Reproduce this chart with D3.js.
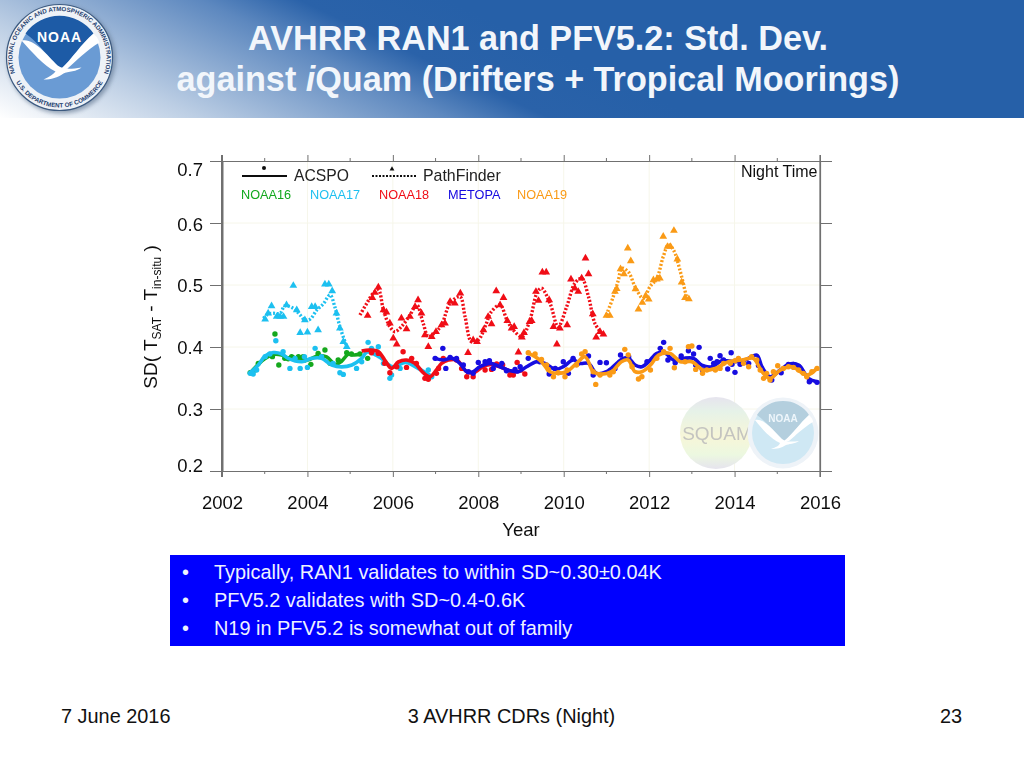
<!DOCTYPE html>
<html><head><meta charset="utf-8">
<script src="https://cdn.jsdelivr.net/npm/d3@7"></script>
<style>html,body{margin:0;padding:0;background:#fff}svg{display:block}text{font-family:"Liberation Sans",Arial,sans-serif}</style>
</head><body><div id="c"></div>
<script>
const titleLines=["AVHRR RAN1 and PFV5.2: Std. Dev."];
const bullets=["Typically, RAN1 validates to within SD~0.30±0.04K","PFV5.2 validates with SD~0.4-0.6K","N19 in PFV5.2 is somewhat out of family"];
const yearTicks=[2002,2004,2006,2008,2010,2012,2014,2016];
const minorTicks=[2003,2005,2007,2009,2011,2013,2015];
const sdTicks=[0.2,0.3,0.4,0.5,0.6,0.7];
const names=["NOAA16","NOAA17","NOAA18","METOPA","NOAA19"];
const colors={NOAA16:"#12a81e",NOAA17:"#1fc0f0",NOAA18:"#f00a14",METOPA:"#1408e0",NOAA19:"#fa9a14"};

const acspoLine={
NOAA16:[[2002.66,.358],[2002.85,.372],[2003.0,.381],[2003.2,.388],[2003.4,.387],[2003.55,.382],[2003.75,.381],[2004.0,.379],[2004.25,.386],[2004.45,.384],[2004.65,.372],[2004.8,.377],[2004.95,.388],[2005.1,.387],[2005.27,.389]],
NOAA17:[[2002.66,.3586],[2002.85,.371],[2003.01,.3855],[2003.2,.391],[2003.4,.3887],[2003.55,.3817],[2003.87,.3763],[2004.1,.3817],[2004.33,.3817],[2004.57,.371],[2004.8,.368],[2005.04,.371],[2005.27,.3817],[2005.4,.392],[2005.7,.383],[2006.0,.368],[2006.3,.375],[2006.6,.365],[2006.9,.353]],
NOAA18:[[2005.27,.3935],[2005.46,.395],[2005.66,.3925],[2005.81,.379],[2005.97,.3656],[2006.13,.376],[2006.32,.379],[2006.52,.3736],[2006.71,.3586],[2006.87,.352],[2007.02,.363],[2007.14,.3736],[2007.3,.379],[2007.5,.379],[2007.73,.36],[2007.88,.358],[2008.1,.368],[2008.3,.372],[2008.55,.367],[2008.8,.36],[2009.05,.362]],
METOPA:[[2006.99,.3817],[2007.18,.379],[2007.38,.3817],[2007.57,.3736],[2007.73,.3602],[2007.88,.3602],[2008.04,.3682],[2008.27,.3736],[2008.51,.3682],[2008.74,.3618],[2008.94,.3602],[2009.13,.3682],[2009.37,.3763],[2009.56,.3736],[2009.8,.364],[2009.99,.3682],[2010.22,.379],[2010.38,.3736],[2010.58,.3736],[2010.77,.3575],[2011.0,.3602],[2011.24,.3736],[2011.39,.3817],[2011.52,.3817],[2011.67,.3709],[2011.83,.3682],[2011.99,.3763],[2012.18,.3897],[2012.38,.3897],[2012.57,.379],[2012.8,.3817],[2013.04,.3817],[2013.23,.3709],[2013.47,.3682],[2013.7,.3779],[2014.01,.3763],[2014.25,.379],[2014.52,.387],[2014.64,.3682],[2014.83,.352],[2015.07,.3628],[2015.26,.372],[2015.5,.3709],[2015.73,.3494],[2015.93,.344]],
NOAA19:[[2009.17,.39],[2009.44,.379],[2009.68,.36],[2009.87,.3575],[2010.07,.3602],[2010.3,.3736],[2010.5,.3844],[2010.69,.3602],[2010.85,.3564],[2011.12,.3602],[2011.35,.3763],[2011.51,.379],[2011.67,.3602],[2011.83,.3602],[2012.03,.3709],[2012.22,.387],[2012.49,.3897],[2012.73,.3763],[2013.0,.3763],[2013.27,.3628],[2013.55,.3655],[2013.86,.3763],[2014.17,.379],[2014.44,.3817],[2014.64,.3602],[2014.83,.3494],[2015.07,.3628],[2015.34,.3682],[2015.69,.3548],[2015.93,.3655]]
};
const acspoDots={
NOAA16:[[2002.66,.3585],[2002.77,.3628],[2002.85,.3736],[2003.18,.3844],[2003.24,.4209],[2003.33,.3709],[2003.47,.3817],[2003.55,.381],[2003.63,.3844],[2003.67,.3825],[2003.75,.38],[2003.79,.3844],[2003.85,.381],[2003.9,.3844],[2003.94,.379],[2004.08,.372],[2004.25,.3897],[2004.41,.3951],[2004.53,.3736],[2004.72,.379],[2004.92,.3908],[2005.03,.3887],[2005.23,.3887],[2005.41,.3817]],
NOAA17:[[2002.66,.3575],[2002.73,.3564],[2002.81,.3628],[2003.01,.3844],[2003.12,.3887],[2003.26,.4102],[2003.43,.3924],[2003.59,.3655],[2003.71,.3817],[2003.83,.3655],[2003.93,.3844],[2004.0,.3671],[2004.18,.3978],[2004.33,.3844],[2004.6,.3736],[2004.76,.3585],[2004.84,.3558],[2005.15,.3655],[2005.27,.3763],[2005.42,.4075],[2005.5,.3978],[2005.66,.4005],[2005.78,.3736],[2005.93,.3494],[2005.97,.3548],[2006.17,.3655],[2006.83,.3628],[2006.91,.3521]],
NOAA18:[[2005.5,.3908],[2005.66,.3897],[2005.81,.3736],[2005.93,.3585],[2006.09,.3682],[2006.24,.3924],[2006.32,.3671],[2006.44,.3817],[2006.55,.3736],[2006.75,.3494],[2006.83,.3478],[2007.02,.3575],[2007.07,.3655],[2007.18,.3817],[2007.49,.379],[2007.61,.3655],[2007.73,.3521],[2007.88,.3521],[2008.16,.3628],[2008.31,.3639],[2008.43,.3725],[2008.57,.3709],[2008.74,.3548],[2008.82,.3548],[2008.91,.3752],[2009.09,.3564]],
METOPA:[[2006.99,.3817],[2007.17,.3978],[2007.24,.3655],[2007.34,.3833],[2007.49,.3817],[2007.65,.3709],[2007.77,.3602],[2007.88,.3575],[2008.0,.3752],[2008.16,.3763],[2008.26,.3779],[2008.35,.3655],[2008.55,.3736],[2008.66,.3618],[2008.86,.3639],[2008.98,.3682],[2009.17,.3817],[2009.44,.3763],[2009.66,.3564],[2009.8,.3655],[2009.99,.3763],[2010.11,.3575],[2010.22,.3817],[2010.34,.3736],[2010.58,.3854],[2010.69,.3548],[2010.85,.3752],[2011.0,.3747],[2011.2,.3655],[2011.33,.3871],[2011.52,.3844],[2011.95,.3763],[2012.26,.3978],[2012.34,.4075],[2012.44,.379],[2012.61,.3747],[2012.75,.3854],[2012.92,.394],[2013.04,.3887],[2013.17,.3994],[2013.09,.3709],[2013.25,.3628],[2013.43,.3817],[2013.51,.3736],[2013.59,.3763],[2013.66,.386],[2013.74,.379],[2013.92,.3908],[2013.84,.3645],[2014.01,.3591],[2013.94,.372],[2014.13,.372],[2014.33,.3736],[2014.56,.37],[2014.87,.3467],[2015.09,.3585],[2015.26,.372],[2015.38,.372],[2015.5,.3682],[2015.75,.344],[2015.93,.343]],
NOAA19:[[2009.17,.3908],[2009.33,.3887],[2009.48,.38],[2009.6,.3709],[2009.64,.3639],[2009.76,.3521],[2009.87,.3585],[2010.03,.3521],[2010.08,.3628],[2010.3,.3709],[2010.42,.3887],[2010.5,.3924],[2010.69,.3602],[2010.75,.3397],[2010.85,.3548],[2011.08,.3548],[2011.16,.3602],[2011.43,.3962],[2011.51,.3871],[2011.6,.3682],[2011.75,.3483],[2011.83,.3521],[2012.03,.3628],[2012.18,.3817],[2012.34,.3924],[2012.49,.3978],[2012.59,.3666],[2012.84,.3763],[2012.92,.4005],[2013.0,.4016],[2013.09,.3639],[2013.25,.3575],[2013.35,.3628],[2013.55,.3628],[2013.66,.3655],[2013.74,.3736],[2013.9,.3736],[2014.01,.3779],[2014.09,.3817],[2014.21,.3736],[2014.33,.3682],[2014.4,.3844],[2014.52,.379],[2014.6,.3628],[2014.68,.3494],[2014.75,.3575],[2014.83,.3467],[2014.91,.3602],[2015.01,.3698],[2015.14,.3655],[2015.26,.3682],[2015.38,.3671],[2015.5,.3628],[2015.61,.3575],[2015.69,.3521],[2015.81,.3602],[2015.93,.3655]]
};
const pfLine={
NOAA17:[[2002.97,.4463],[2003.08,.4533],[2003.2,.4543],[2003.36,.4543],[2003.47,.4662],[2003.67,.4624],[2003.83,.4516],[2003.94,.4436],[2004.06,.4447],[2004.22,.4597],[2004.37,.4694],[2004.53,.4839],[2004.64,.4651],[2004.76,.4328],[2004.92,.4005]],
NOAA18:[[2005.23,.4516],[2005.39,.4705],[2005.54,.4866],[2005.66,.492],[2005.78,.4597],[2005.93,.4328],[2006.05,.4247],[2006.2,.4328],[2006.4,.4516],[2006.56,.4678],[2006.71,.4382],[2006.83,.4167],[2006.98,.4231],[2007.14,.4355],[2007.34,.4705],[2007.57,.4812],[2007.69,.449],[2007.84,.4086],[2008.0,.4113],[2008.19,.4382],[2008.28,.4543],[2008.51,.4678],[2008.67,.4436],[2008.82,.4274],[2009.02,.4167],[2009.21,.4436],[2009.37,.4866],[2009.48,.4947],[2009.68,.4705],[2009.87,.4328],[2010.07,.4651],[2010.26,.5027],[2010.42,.5108],[2010.58,.4812],[2010.73,.4382],[2010.89,.4221]],
NOAA19:[[2011.0,.4516],[2011.16,.4812],[2011.28,.5081],[2011.36,.5269],[2011.51,.5215],[2011.67,.4974],[2011.86,.4785],[2012.02,.4974],[2012.18,.5108],[2012.33,.5457],[2012.45,.5646],[2012.57,.5565],[2012.72,.5242],[2012.88,.4785]]
};
const pfTri={
NOAA17:[[2003.01,.4447],[2003.08,.4543],[2003.16,.4662],[2003.28,.449],[2003.36,.449],[2003.44,.449],[2003.51,.4678],[2003.67,.499],[2003.75,.4597],[2003.83,.4231],[2003.94,.4436],[2004.0,.4237],[2004.1,.4651],[2004.18,.4651],[2004.25,.4274],[2004.41,.5011],[2004.5,.5011],[2004.58,.4904],[2004.68,.4543],[2004.76,.4301],[2004.84,.4086],[2004.92,.4005]],
NOAA18:[[2005.41,.4506],[2005.52,.4796],[2005.58,.4877],[2005.66,.4963],[2005.78,.4597],[2005.85,.456],[2005.93,.4382],[2006.01,.414],[2006.09,.4043],[2006.2,.4463],[2006.32,.4291],[2006.4,.449],[2006.52,.4651],[2006.59,.4759],[2006.67,.4543],[2006.75,.4194],[2006.83,.4005],[2006.91,.4167],[2007.01,.4247],[2007.14,.4355],[2007.22,.4382],[2007.34,.4732],[2007.45,.4705],[2007.58,.4866],[2007.76,.3909],[2007.88,.4113],[2007.97,.4086],[2008.12,.4274],[2008.23,.449],[2008.31,.4371],[2008.42,.4904],[2008.51,.4678],[2008.59,.4796],[2008.68,.4425],[2008.78,.4301],[2008.84,.4328],[2008.94,.3914],[2009.02,.4156],[2009.07,.4231],[2009.2,.4409],[2009.25,.4425],[2009.35,.4893],[2009.41,.4748],[2009.5,.5205],[2009.59,.5205],[2009.66,.4759],[2009.76,.4328],[2009.84,.4043],[2009.91,.4301],[2010.08,.4355],[2010.17,.5092],[2010.26,.4947],[2010.34,.4893],[2010.42,.5108],[2010.51,.5431],[2010.58,.5178],[2010.68,.4533],[2010.76,.4156],[2010.85,.4247],[2010.93,.4204]],
NOAA19:[[2011.0,.4506],[2011.08,.4506],[2011.2,.4893],[2011.24,.4941],[2011.33,.5259],[2011.41,.5178],[2011.5,.5592],[2011.57,.5387],[2011.68,.4936],[2011.75,.4608],[2011.84,.4716],[2011.92,.4828],[2011.99,.4769],[2012.1,.5081],[2012.18,.5092],[2012.25,.5108],[2012.33,.5781],[2012.43,.5619],[2012.5,.5619],[2012.58,.5877],[2012.66,.5414],[2012.76,.5044],[2012.84,.4796],[2012.93,.4775]]
};

const svg=d3.select("#c").append("svg").attr("width",1024).attr("height",768);
const defs=svg.append("defs");
const g=defs.append("linearGradient").attr("id","bar").attr("gradientUnits","userSpaceOnUse").attr("x1",0).attr("y1",118).attr("x2",127.5).attr("y2",-152);
[[0,"#ffffff"],[.286,"#bccee4"],[.643,"#5d88bf"],[.786,"#2a62a9"],[1,"#2660a8"]].forEach(s=>g.append("stop").attr("offset",s[0]).attr("stop-color",s[1]));
defs.append("filter").attr("id","soft").append("feGaussianBlur").attr("stdDeviation",0.55);
defs.append("filter").attr("id","shadow").append("feGaussianBlur").attr("stdDeviation",2);
const sq=defs.append("linearGradient").attr("id","sq").attr("x1","0").attr("y1","0").attr("x2","0").attr("y2","1");
[[0,"#e6e4ee"],[.2,"#e6f2e8"],[.55,"#f7f6d8"],[.8,"#ecf8e0"],[1,"#e6e4ee"]].forEach(s=>sq.append("stop").attr("offset",s[0]).attr("stop-color",s[1]));

// header
svg.append("rect").attr("width",1024).attr("height",118).attr("fill","url(#bar)");
const logo=svg.append("g").attr("transform","translate(59.5,57.5)");
logo.append("circle").attr("cx",2).attr("cy",2).attr("r",54).attr("fill","#5a6f8a").attr("opacity",.6).attr("filter","url(#shadow)");
logo.append("circle").attr("r",53).attr("fill","#eef2f7").attr("stroke","#3c5a80").attr("stroke-width",1.2);
logo.append("circle").attr("r",41).attr("fill","#6a9bd4");
logo.append("path").attr("d","M-34,-24 A41.5,41.5 0 0 1 34,-24 C22,-14 12,2 2,11 C-8,4 -22,-16 -34,-24 Z").attr("fill","#1d5ba6");
logo.append("path").attr("d","M-38,-17 C-26,-20 -14,-4 -2,8 C4,12 10,12 22,10 C18,14 8,14 4,16 C-2,20 -8,22 -16,22 C-10,19 -6,17 -4,14 C-16,8 -28,-6 -38,-17 Z M34,-24 C38,-20 39,-18 40,-15 C28,-8 16,4 8,11 C4,11 3,11 2,11 C12,2 22,-14 34,-24 Z").attr("fill","#fff");
logo.append("text").attr("x",0).attr("y",-15.5).attr("text-anchor","middle").attr("font-size",14).attr("font-weight",700).attr("fill","#fff").attr("letter-spacing",1).text("NOAA");
defs.append("path").attr("id","arcT").attr("d","M-44,17 A47,47 0 1 1 44,17");
defs.append("path").attr("id","arcB").attr("d","M-48,14 A50,50 0 0 0 48,14");
logo.append("text").attr("font-size",6.2).attr("font-weight",700).attr("fill","#1f3f70").append("textPath").attr("href","#arcT").attr("startOffset","50%").attr("text-anchor","middle").text("NATIONAL OCEANIC AND ATMOSPHERIC ADMINISTRATION");
logo.append("text").attr("font-size",6.2).attr("font-weight",700).attr("fill","#1f3f70").append("textPath").attr("href","#arcB").attr("startOffset","50%").attr("text-anchor","middle").text("U.S. DEPARTMENT OF COMMERCE");

svg.append("text").attr("x",538).attr("y",50).attr("text-anchor","middle").attr("font-size",34.2).attr("font-weight",700).attr("fill","#f2f6fb").text(titleLines[0]);
const t2=svg.append("text").attr("x",538).attr("y",91).attr("text-anchor","middle").attr("font-size",34.2).attr("font-weight",700).attr("fill","#f2f6fb");
t2.append("tspan").text("against ");
t2.append("tspan").attr("font-style","italic").text("i");
t2.append("tspan").text("Quam (Drifters + Tropical Moorings)");

// chart
const x=d3.scaleLinear().domain([2002,2016]).range([222,820]);
const y=d3.scaleLinear().domain([0.2,0.7]).range([471,161]);
const plot=svg.append("g").attr("filter","url(#soft)");

// faint grid
plot.append("g").selectAll("line").data(yearTicks.slice(1,-1)).join("line").attr("x1",d=>x(d)).attr("x2",d=>x(d)).attr("y1",y(.7)).attr("y2",y(.2)).attr("stroke","#f6f6ea");
plot.append("g").selectAll("line").data(sdTicks.slice(1,-1)).join("line").attr("x1",x(2002)).attr("x2",x(2016)).attr("y1",d=>y(d)).attr("y2",d=>y(d)).attr("stroke","#f6f6ea");

// watermarks
const wm=plot.append("g");
wm.append("circle").attr("cx",716).attr("cy",433).attr("r",36).attr("fill","url(#sq)");
wm.append("text").attr("x",717).attr("y",440).attr("text-anchor","middle").attr("font-size",19).attr("fill","#c4c4c0").text("SQUAM");
const wn=wm.append("g").attr("transform","translate(783,433)");
wn.append("circle").attr("r",35.5).attr("fill","#eef3f8");
wn.append("circle").attr("r",31).attr("fill","#cfe8f4");
wn.append("path").attr("d","M-26,-18 A31,31 0 0 1 26,-18 C17,-10 9,2 1,8 C-6,3 -17,-12 -26,-18 Z").attr("fill","#b4cfde");
wn.append("path").attr("d","M-28,-13 C-19,-15 -10,-3 -1,6 C3,9 8,9 16,8 C12,11 5,11 3,12 C-2,15 -6,16 -12,16 C-7,14 -4,13 -3,10 C-12,6 -21,-4 -28,-13 Z M26,-18 C29,-15 30,-13 30,-11 C21,-6 12,3 6,8 L1,8 C9,2 17,-10 26,-18 Z").attr("fill","#fff");
wn.append("text").attr("y",-11).attr("text-anchor","middle").attr("font-size",10).attr("font-weight",700).attr("fill","#eef6fb").text("NOAA");

// axes
const axisColor="#707070";
function styleAxis(sel){sel.selectAll("path,line").attr("stroke",axisColor);sel.select(".domain").attr("stroke-width",1.2);sel.selectAll("text").attr("fill","#111").style("font-family",'"Liberation Sans",Arial,sans-serif');}
const axT=d3.axisTop(x).tickValues(yearTicks).tickSize(6).tickSizeOuter(0).tickFormat("");
const axB=d3.axisBottom(x).tickValues(yearTicks).tickSize(6).tickSizeOuter(0).tickFormat(d3.format("d")).tickPadding(19);
const axL=d3.axisLeft(y).tickValues(sdTicks).tickSize(12).tickSizeOuter(0).tickFormat(d3.format(".1f")).tickPadding(7);
const axR=d3.axisRight(y).tickValues(sdTicks).tickSize(12).tickSizeOuter(0).tickFormat("");
const gT=plot.append("g").attr("transform",`translate(0,${y(.7)})`).call(axT).call(styleAxis);
const gB=plot.append("g").attr("transform",`translate(0,${y(.2)})`).call(axB).call(styleAxis);
gB.selectAll("text").attr("font-size",18.5);
const gL=plot.append("g").attr("transform",`translate(${x(2002)},0)`).call(axL).call(styleAxis);
gL.selectAll("text").attr("font-size",18.5).attr("transform",d=>`translate(0,${d===.7?8.5:d===.2?-5:d===.6?2:1})`);
gL.select(".domain").attr("stroke-width",2);
plot.append("g").attr("transform",`translate(${x(2016)},0)`).call(axR).call(styleAxis);
[[x(2002)],[x(2016)]].forEach(a=>plot.append("line").attr("x1",a[0]).attr("x2",a[0]).attr("y1",155).attr("y2",477).attr("stroke",axisColor).attr("stroke-width",a[0]<300?2:1.2));
plot.append("g").selectAll("line").data(minorTicks).join("line").attr("x1",d=>x(d)).attr("x2",d=>x(d)).attr("y1",y(.7)-3).attr("y2",y(.7)).attr("stroke",axisColor);
plot.append("g").selectAll("line").data(minorTicks).join("line").attr("x1",d=>x(d)).attr("x2",d=>x(d)).attr("y1",y(.2)).attr("y2",y(.2)+3).attr("stroke",axisColor);

plot.append("text").attr("x",521).attr("y",536).attr("text-anchor","middle").attr("font-size",18.5).attr("fill","#111").text("Year");
const yt=plot.append("text").attr("transform","translate(157,317) rotate(-90)").attr("text-anchor","middle").attr("font-size",19).attr("fill","#111");
yt.append("tspan").text("SD( T");
yt.append("tspan").attr("font-size",12).attr("dy",4).text("SAT");
yt.append("tspan").attr("dy",-4).text("  - T");
yt.append("tspan").attr("font-size",12).attr("dy",4).text("in-situ");
yt.append("tspan").attr("dy",-4).text(" )");

// series
const lineGen=d3.line().x(d=>x(d[0])).y(d=>y(d[1])).curve(d3.curveCatmullRom.alpha(.5));
const tri=d3.symbol().type(d3.symbolTriangle).size(26);
names.forEach(n=>{
  if(pfLine[n]) plot.append("path").datum(pfLine[n]).attr("d",lineGen).attr("fill","none").attr("stroke",colors[n]).attr("stroke-width",3.4).attr("stroke-dasharray","2 1.8");
  if(pfTri[n]) plot.append("g").selectAll("path").data(pfTri[n]).join("path").attr("d",tri).attr("transform",d=>`translate(${x(d[0])},${y(d[1])})`).attr("fill",colors[n]);
});
names.forEach(n=>{
  plot.append("g").selectAll("circle").data(acspoDots[n]).join("circle").attr("cx",d=>x(d[0])).attr("cy",d=>y(d[1])).attr("r",2.7).attr("fill",colors[n]);
  plot.append("path").datum(acspoLine[n]).attr("d",lineGen).attr("fill","none").attr("stroke",colors[n]).attr("stroke-width",3.6);
});

// legend
const leg=plot.append("g");
leg.append("line").attr("x1",242).attr("x2",287).attr("y1",176).attr("y2",176).attr("stroke","#111").attr("stroke-width",2);
leg.append("circle").attr("cx",264).attr("cy",168).attr("r",2).attr("fill","#111");
leg.append("text").attr("x",294).attr("y",181).attr("font-size",15.7).attr("fill","#222").text("ACSPO");
leg.append("line").attr("x1",372).attr("x2",416).attr("y1",176).attr("y2",176).attr("stroke","#111").attr("stroke-width",2).attr("stroke-dasharray","2 1.5");
leg.append("path").attr("d",d3.symbol().type(d3.symbolTriangle).size(10)).attr("transform","translate(392,169)").attr("fill","#111");
leg.append("text").attr("x",423).attr("y",181).attr("font-size",15.9).attr("fill","#222").text("PathFinder");
const legX=[241,310,379,448,517];
names.forEach((n,i)=>leg.append("text").attr("x",legX[i]).attr("y",199).attr("font-size",12.7).attr("fill",colors[n]).text(n));
leg.append("text").attr("x",741).attr("y",177).attr("font-size",16).attr("fill","#111").text("Night Time");

// bullet box
svg.append("rect").attr("x",170).attr("y",555).attr("width",675).attr("height",91).attr("fill","#0000ff");
bullets.forEach((b,i)=>{
  svg.append("text").attr("x",182).attr("y",579+i*28.2).attr("font-size",19.9).attr("fill","#eef2ff").text("•");
  svg.append("text").attr("x",214).attr("y",579+i*28.2).attr("font-size",19.9).attr("fill","#eef2ff").text(b);
});

// footer
svg.append("text").attr("x",61).attr("y",723).attr("font-size",19.9).attr("fill","#111").text("7 June 2016");
svg.append("text").attr("x",511.5).attr("y",723).attr("text-anchor","middle").attr("font-size",19.9).attr("fill","#111").text("3 AVHRR CDRs (Night)");
svg.append("text").attr("x",951).attr("y",723).attr("text-anchor","middle").attr("font-size",19.9).attr("fill","#111").text("23");
</script></body></html>
